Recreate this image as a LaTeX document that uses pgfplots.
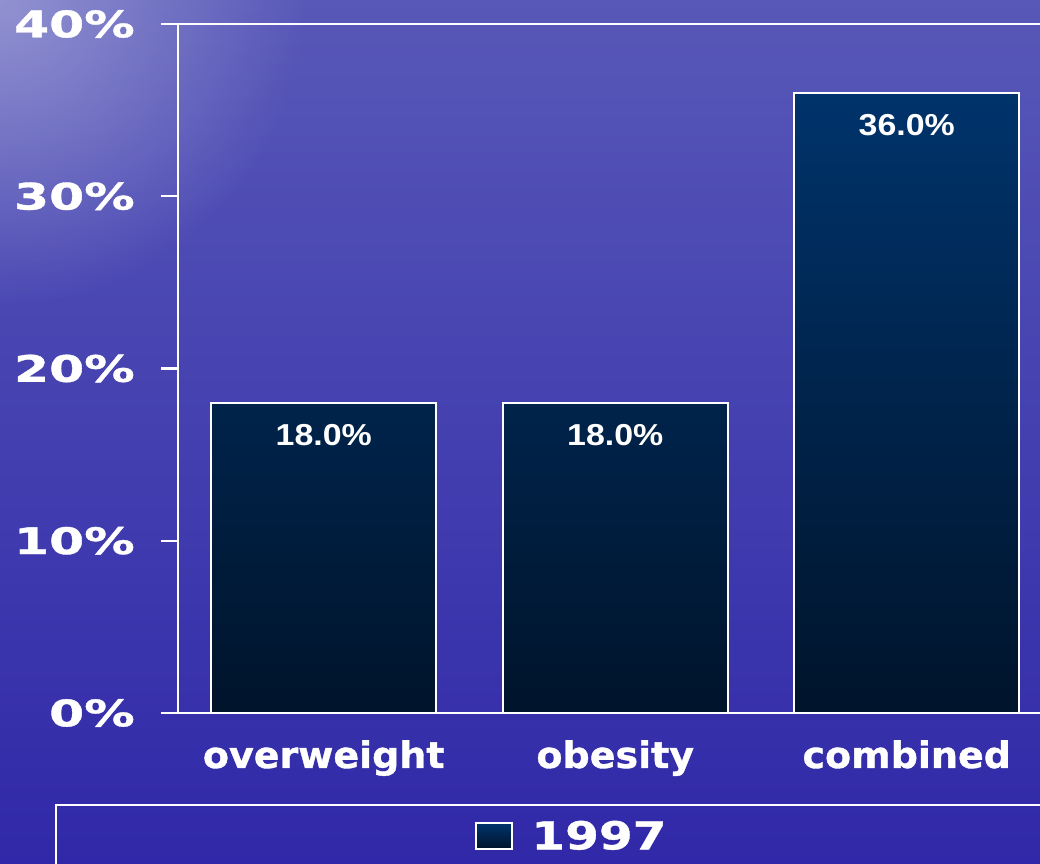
\documentclass[border=0pt]{standalone}
\usepackage{fontspec}
\usepackage{pgfplots}
\pgfplotsset{compat=1.18}
\usetikzlibrary{fadings}
\tikzfading[name=glowfade, inner color=transparent!0, outer color=transparent!100]
\newfontfamily\tickfont{DejaVu Sans Bold}[FakeStretch=1.38, FakeBold=1]
\newfontfamily\catfont{DejaVu Sans Bold}[FakeStretch=1.04, FakeBold=1]
\newfontfamily\legfont{DejaVu Sans Bold}[FakeStretch=1.26, FakeBold=1]
\newfontfamily\valfont{Liberation Sans Bold}[FakeStretch=1.12]
\definecolor{bgtop}{HTML}{5858B8}
\definecolor{bgbot}{HTML}{3028A8}
\definecolor{bgglow}{HTML}{A0A0D8}
\definecolor{bartop}{HTML}{00336B}
\definecolor{barbot}{HTML}{00142B}
\begin{document}
\begin{tikzpicture}
\path[use as bounding box] (0,0) rectangle (780pt,648pt);
\clip (0,0) rectangle (780pt,648pt);
\shade[top color=bgtop, bottom color=bgbot] (0,0) rectangle (780pt,648pt);
\fill[bgglow, opacity=0.8, path fading=glowfade] (0,648pt) circle (230pt);
\begin{axis}[
  at={(133.5pt,113.25pt)}, anchor=south west,
  scale only axis, width=655.875pt, height=516.75pt,
  xmin=-0.5, xmax=2.5, ymin=0, ymax=40,
  axis line style={white, line width=1.6pt},
  tick style={white, line width=1.6pt},
  tick align=outside,
  major tick length=12.75pt,
  minor tick length=7.5pt,
  xtick=\empty,
  minor xtick={-0.5,0.5,1.5,2.5},
  extra x ticks={0,1,2},
  extra x tick labels={overweight,obesity,combined},
  extra x tick style={major tick length=0pt, tick style={draw=none}},
  xticklabel style={anchor=base, yshift=-41.25pt, inner sep=0pt, text=white, font=\catfont\fontsize{27.4}{30}\selectfont},
  ytick={0,10,20,30,40},
  yticklabels={0\%,10\%,20\%,30\%,40\%},
  yticklabel style={anchor=east, xshift=-19.5pt, inner sep=0pt, text=white, font=\tickfont\fontsize{27.4}{30}\selectfont},
  ytick pos=left,
  ybar, bar width=168.75pt,
  nodes near coords={\pgfmathprintnumber[assume math mode=true,fixed,fixed zerofill,precision=1]{\pgfplotspointmeta}\%},
  nodes near coords align={below},
  every node near coord/.append style={yshift=-15pt, inner sep=0pt, text=white, font=\valfont\fontsize{22.7}{26}\selectfont},
  legend style={at={(-0.1407,-0.1321)}, anchor=north west, draw=white, line width=1.2pt, fill=none,
    inner xsep=314.5pt, inner ysep=10pt, text=white, font=\legfont\fontsize{28.9}{32}\selectfont,
    /tikz/every odd column/.append style={column sep=12pt}},
  clip=false,
]
\addplot[draw=white, line width=1.6pt, top color=bartop, bottom color=barbot,
  legend image code/.code={\draw[white, line width=1.2pt, top color=bartop, bottom color=barbot] (0pt,-9.75pt) rectangle (27pt,9.75pt);}]
  coordinates {(0,18) (1,18) (2,36)};
\legend{1997}
\end{axis}
\end{tikzpicture}
\end{document}
